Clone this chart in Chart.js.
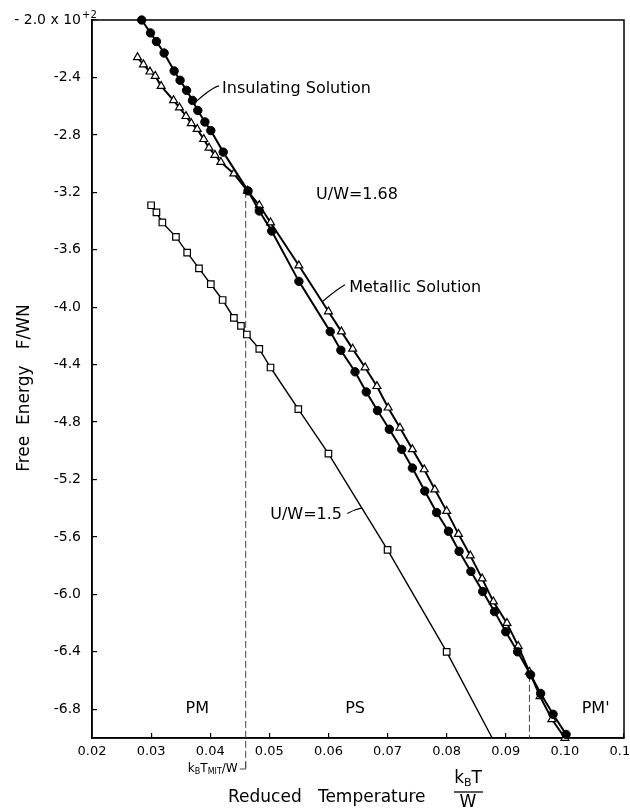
<!DOCTYPE html>
<html>
<head>
<meta charset="utf-8">
<script src="https://cdn.jsdelivr.net/npm/chart.js@4.4.1/dist/chart.umd.min.js"></script>
<style>
  html, body { margin: 0; padding: 0; background: #fff; }
  #wrap { width: 630px; height: 810px; }
</style>
</head>
<body>
<div id="wrap"><canvas id="free_energy_chart"></canvas></div>
<script>
// U/W = 1.68, insulating solution (filled circles)
const insulatingT = [0.0284, 0.0299, 0.0309, 0.0322, 0.0339, 0.0349, 0.0360, 0.0370, 0.0379, 0.0391,
                     0.0401, 0.0422, 0.0464, 0.0483, 0.0504, 0.0550, 0.0603, 0.0621, 0.0645, 0.0664,
                     0.0683, 0.0703, 0.0724, 0.0742, 0.0763, 0.0783, 0.0803, 0.0821, 0.0841, 0.0861,
                     0.0881, 0.0900, 0.0920, 0.0942, 0.0959, 0.0980, 0.1002];
const insulatingF = [-2.00, -2.09, -2.15, -2.23, -2.355, -2.42, -2.49, -2.56, -2.63, -2.71,
                     -2.77, -2.92, -3.19, -3.33, -3.47, -3.82, -4.17, -4.30, -4.45, -4.59,
                     -4.72, -4.85, -4.99, -5.12, -5.28, -5.43, -5.56, -5.70, -5.84, -5.98,
                     -6.12, -6.26, -6.40, -6.56, -6.69, -6.835, -6.975];

// U/W = 1.68, metallic solution (open triangles)
const metallicT = [0.0277, 0.0287, 0.0298, 0.0307, 0.0317, 0.0338, 0.0348, 0.0359, 0.0368, 0.0378,
                   0.0389, 0.0398, 0.0408, 0.0418, 0.0440, 0.0463, 0.0483, 0.0502, 0.0550, 0.0600,
                   0.0622, 0.0641, 0.0662, 0.0682, 0.0701, 0.0721, 0.0742, 0.0762, 0.0780, 0.0800,
                   0.0820, 0.0840, 0.0860, 0.0879, 0.0902, 0.0921, 0.0940, 0.0958, 0.0978, 0.1000];
const metallicF = [-2.26, -2.31, -2.36, -2.39, -2.46, -2.56, -2.61, -2.67, -2.72, -2.76,
                   -2.83, -2.89, -2.94, -2.99, -3.07, -3.19, -3.29, -3.41, -3.71, -4.03,
                   -4.17, -4.29, -4.42, -4.55, -4.70, -4.84, -4.99, -5.13, -5.27, -5.42,
                   -5.58, -5.73, -5.89, -6.05, -6.20, -6.36, -6.54, -6.71, -6.87, -7.00];

// U/W = 1.5 (open squares); last entry is where the line runs into the axis
const uw15T = [0.0300, 0.0309, 0.0319, 0.0342, 0.0361, 0.0381, 0.0401, 0.0421, 0.0440, 0.0452,
               0.0462, 0.0483, 0.0502, 0.0549, 0.0600, 0.0700, 0.0800, 0.0877];
const uw15F = [-3.29, -3.34, -3.41, -3.51, -3.62, -3.73, -3.84, -3.95, -4.075, -4.13,
               -4.19, -4.29, -4.42, -4.71, -5.02, -5.69, -6.40, -7.00];

const xTickValues = [0.02, 0.03, 0.04, 0.05, 0.06, 0.07, 0.08, 0.09, 0.10, 0.11];
const yTickValues = [-2.0, -2.4, -2.8, -3.2, -3.6, -4.0, -4.4, -4.8, -5.2, -5.6, -6.0, -6.4, -6.8];

// transitions (dashed verticals): k_B T_MIT / W and the upper crossing
const transitionT = [0.046, 0.094];
const transitionF = [-3.19, -6.56];

const fontFam = '"DejaVu Sans", sans-serif';

const toPoints = (xs, ys) => xs.map((v, i) => ({x: v, y: ys[i]}));

// text placed in data units
const notes = [
  {text: 'Insulating Solution', t: 0.0420, f: -2.48, align: 'left'},
  {text: 'U/W=1.68', t: 0.0579, f: -3.217, align: 'left'},
  {text: 'Metallic Solution', t: 0.0635, f: -3.864, align: 'left'},
  {text: 'U/W=1.5', t: 0.0623, f: -5.443, align: 'right'},
  {text: 'PM', t: 0.0378, f: -6.80, align: 'center'},
  {text: 'PS', t: 0.0645, f: -6.80, align: 'center'},
  {text: "PM'", t: 0.1052, f: -6.80, align: 'center'}
];
const leaders = [
  [[0.0415, -2.459], [0.0403, -2.470], [0.0377, -2.565]],
  [[0.0628, -3.843], [0.0613, -3.878], [0.0590, -3.960]],
  [[0.0632, -5.437], [0.0643, -5.409], [0.0657, -5.398]]
];

function runs(ctx, parts, xRight, yMid) {
  // parts: [text, size, dy]
  let total = 0;
  parts.forEach(p => { ctx.font = p[1] + 'px ' + fontFam; total += ctx.measureText(p[0]).width; });
  let cx = xRight - total;
  ctx.textAlign = 'left';
  parts.forEach(p => {
    ctx.font = p[1] + 'px ' + fontFam;
    ctx.fillText(p[0], cx, yMid + p[2]);
    cx += ctx.measureText(p[0]).width;
  });
}

const annotate = {
  id: 'annotate',
  beforeDatasetsDraw(chart) {
    const {ctx, chartArea: a, scales: {x, y}} = chart;
    ctx.save();
    ctx.strokeStyle = '#000';
    ctx.lineWidth = 1.5;
    ctx.strokeRect(a.left, a.top, a.right - a.left, a.bottom - a.top);

    ctx.lineWidth = 1;
    ctx.strokeStyle = '#444';
    ctx.setLineDash([7, 3]);
    transitionT.forEach((t, i) => {
      const px = x.getPixelForValue(t);
      ctx.beginPath();
      ctx.moveTo(px, y.getPixelForValue(transitionF[i]));
      ctx.lineTo(px, i === 0 ? a.bottom + 30 : a.bottom);
      ctx.stroke();
    });
    ctx.setLineDash([]);
    const p0 = x.getPixelForValue(transitionT[0]);
    ctx.beginPath();
    ctx.moveTo(p0, a.bottom + 24);
    ctx.lineTo(p0, a.bottom + 31);
    ctx.lineTo(p0 - 6, a.bottom + 31);
    ctx.stroke();
    ctx.restore();
  },
  afterDatasetsDraw(chart) {
    const {ctx, chartArea: a, scales: {x, y}} = chart;
    ctx.save();
    ctx.fillStyle = '#000';
    ctx.strokeStyle = '#000';
    ctx.textBaseline = 'middle';

    notes.forEach(n => {
      ctx.font = '16px ' + fontFam;
      ctx.textAlign = n.align;
      ctx.fillText(n.text, x.getPixelForValue(n.t), y.getPixelForValue(n.f));
    });

    ctx.lineWidth = 1.2;
    leaders.forEach(l => {
      ctx.beginPath();
      ctx.moveTo(x.getPixelForValue(l[0][0]), y.getPixelForValue(l[0][1]));
      ctx.quadraticCurveTo(x.getPixelForValue(l[1][0]), y.getPixelForValue(l[1][1]),
                           x.getPixelForValue(l[2][0]), y.getPixelForValue(l[2][1]));
      ctx.stroke();
    });

    // exponent on the top tick label
    ctx.font = '10px ' + fontFam;
    ctx.textAlign = 'left';
    ctx.fillText('+2', a.left - 10, y.getPixelForValue(-2.0) - 5);

    // k_B T_MIT / W under the axis
    runs(ctx, [['k', 12, 0], ['B', 8, 3], ['T', 12, 0], ['MIT', 8, 3], ['/W', 12, 0]],
         x.getPixelForValue(transitionT[0]) - 8, a.bottom + 31);

    // axis titles
    ctx.font = '17px ' + fontFam;
    ctx.textAlign = 'left';
    ctx.fillText('Reduced   Temperature', 228, a.bottom + 60);
    const fx = 468;
    runs(ctx, [['k', 17, 0], ['B', 11, 4], ['T', 17, 0]], fx + 14, a.bottom + 41);
    ctx.lineWidth = 1.3;
    ctx.beginPath();
    ctx.moveTo(fx - 14, a.bottom + 54);
    ctx.lineTo(fx + 15, a.bottom + 54);
    ctx.stroke();
    ctx.font = '17px ' + fontFam;
    ctx.textAlign = 'center';
    ctx.fillText('W', fx, a.bottom + 65);

    ctx.translate(25, 388);
    ctx.rotate(-Math.PI / 2);
    ctx.font = '17px ' + fontFam;
    ctx.textAlign = 'center';
    ctx.fillText('Free  Energy   F/WN', 0, 0);
    ctx.restore();
  }
};

const ctx = document.getElementById('free_energy_chart').getContext('2d');
const chart = new Chart(ctx, {
  type: 'line',
  data: {
    datasets: [{
      label: 'Insulating Solution',
      data: toPoints(insulatingT, insulatingF),
      borderColor: '#000',
      borderWidth: 2,
      pointStyle: 'circle',
      pointRadius: 4.2,
      pointBackgroundColor: '#000',
      pointBorderColor: '#000',
      pointBorderWidth: 1,
      clip: false
    }, {
      label: 'Metallic Solution',
      data: toPoints(metallicT, metallicF),
      borderColor: '#000',
      borderWidth: 2,
      pointStyle: 'triangle',
      pointRadius: 4.6,
      pointBackgroundColor: '#fff',
      pointBorderColor: '#000',
      pointBorderWidth: 1.2,
      clip: false
    }, {
      label: 'U/W=1.5',
      data: toPoints(uw15T, uw15F),
      borderColor: '#000',
      borderWidth: 1.4,
      pointStyle: 'rect',
      pointRadius: c => c.dataIndex === uw15T.length - 1 ? 0 : 4.6,
      pointBackgroundColor: '#fff',
      pointBorderColor: '#000',
      pointBorderWidth: 1.2,
      clip: false
    }]
  },
  options: {
    responsive: true,
    maintainAspectRatio: false,
    animation: false,
    events: [],
    layout: { padding: { left: 0, right: 6, top: 20, bottom: 0 } },
    elements: { line: { tension: 0, fill: false } },
    plugins: { legend: { display: false }, tooltip: { enabled: false } },
    scales: {
      x: {
        type: 'linear',
        min: 0.02,
        max: 0.11,
        afterBuildTicks: s => { s.ticks = xTickValues.map(v => ({value: v})); },
        afterFit: s => { s.height = 72; s.paddingLeft = 0; s.paddingRight = 0; },
        grid: { drawOnChartArea: false, drawTicks: true, tickLength: -5, color: '#000', lineWidth: 1.2 },
        border: { display: true, color: '#000', width: 1.5 },
        ticks: {
          autoSkip: false,
          maxRotation: 0,
          padding: 11,
          color: '#000',
          font: { family: fontFam, size: 13 },
          callback: v => v.toFixed(2)
        }
      },
      y: {
        type: 'linear',
        min: -7.0,
        max: -2.0,
        afterBuildTicks: s => { s.ticks = yTickValues.map(v => ({value: v})); },
        afterFit: s => { s.width = 92; s.paddingTop = 0; s.paddingBottom = 0; },
        grid: { drawOnChartArea: false, drawTicks: true, tickLength: -5, color: '#000', lineWidth: 1.2 },
        border: { display: true, color: '#000', width: 1.5 },
        ticks: {
          autoSkip: false,
          padding: 16,
          color: '#000',
          font: { family: fontFam, size: 14 },
          callback: v => (Math.abs(v + 2.0) < 1e-9 ? '- 2.0 x 10' : v.toFixed(1))
        }
      }
    }
  },
  plugins: [annotate]
});
</script>
</body>
</html>
